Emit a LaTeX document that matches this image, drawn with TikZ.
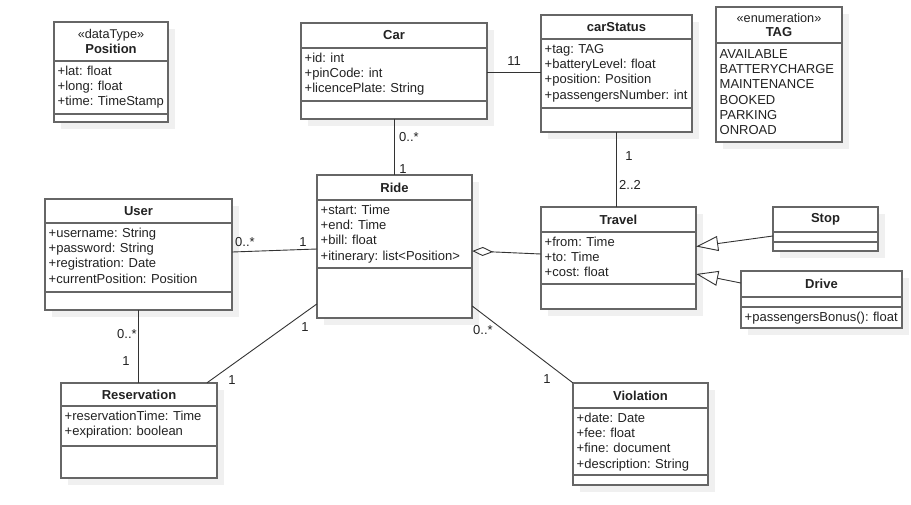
\documentclass[tikz,border=0pt]{standalone}
\usepackage{fontspec}
\setmainfont{Liberation Sans}[WordSpace=0.9]
\usetikzlibrary{arrows.meta,fit,calc}
\definecolor{boxc}{HTML}{666666}
\definecolor{shadc}{HTML}{F0F0F0}
\definecolor{txtc}{HTML}{222222}
\definecolor{linec}{HTML}{333333}
\tikzset{
  boxline/.style={draw=boxc, line width=1.4pt},
  titlef/.style={inner sep=0pt, text=txtc, font=\fontsize{13}{15}\selectfont\bfseries},
  stereof/.style={inner sep=0pt, text=txtc, font=\fontsize{12.7}{15}\selectfont},
  attrf/.style={inner sep=0pt, anchor=base west, text=txtc, font=\fontsize{13}{15}\selectfont},
  litf/.style={inner sep=0pt, anchor=base west, text=txtc, font=\fontsize{13}{15}\selectfont},
  mult/.style={inner sep=0pt, text=txtc, font=\fontsize{13}{15}\selectfont},
  conn/.style={draw=linec, line width=0.9pt},
  genarrow/.style={conn, -{Triangle[open, length=22pt, width=15pt, line width=0.9pt]}},
  aggarrow/.style={conn, -{Diamond[open, length=21pt, width=9pt, line width=0.9pt]}},
}
\newcommand\umlbox[5]{%
  \fill[shadc] (#2+7,#3+7) rectangle (#4+7,#5+7);
  \fill[white] (#2,#3) rectangle (#4,#5);
  \node[inner sep=0pt, fit={(#2,#3) (#4,#5)}] (#1) {};
  \draw[boxline] (#2,#3) rectangle (#4,#5);
}
\newcommand\umldiv[3]{\draw[boxline] (#1,#3) -- (#2,#3);}
\newcommand\umlattrs[5]{%
  \foreach \attrtext [count=\i] in {#5}
    \node[#4] (#1-\i) at (#2, {#3+15.2*(\i-1)}) {\attrtext};
}
\begin{document}
\begin{tikzpicture}[x=1pt, y=-1pt]
\useasboundingbox (0,0) rectangle (911,504);
\fill[white] (0,0) rectangle (911,504);

% Position
\umlbox{position}{54}{22}{168}{122}
\umldiv{54}{168}{61}
\umldiv{54}{168}{114}
\node[stereof] (position-s) at (111,35) {«dataType»};
\node[titlef] (position-t) at (111,49) {Position};
\umlattrs{position-a}{57.5}{75.5}{attrf}{+lat: float,+long: float,+time: TimeStamp}

% Car
\umlbox{car}{301}{23}{487}{119}
\umldiv{301}{487}{48}
\umldiv{301}{487}{101}
\node[titlef] (car-t) at (394,35.5) {Car};
\umlattrs{car-a}{304.5}{62.5}{attrf}{+id: int,+pinCode: int,+licencePlate: String}

% carStatus
\umlbox{cs}{541}{15}{692}{132}
\umldiv{541}{692}{39}
\umldiv{541}{692}{108}
\node[titlef] (cs-t) at (616.5,27) {carStatus};
\umlattrs{cs-a}{544.5}{53.5}{attrf}{+tag: TAG,+batteryLevel: float,+position: Position,+passengersNumber: int}

% TAG
\umlbox{tag}{716}{7}{842}{142}
\umldiv{716}{842}{43}
\node[stereof] (tag-s) at (779,18) {«enumeration»};
\node[titlef] (tag-t) at (779,32) {TAG};
\umlattrs{tag-a}{719.5}{58.5}{litf}{AVAILABLE,BATTERYCHARGE,MAINTENANCE,BOOKED,PARKING,ONROAD}

% User
\umlbox{user}{45}{199}{232}{310}
\umldiv{45}{232}{223}
\umldiv{45}{232}{292}
\node[titlef] (user-t) at (138.5,211) {User};
\umlattrs{user-a}{48.5}{237.5}{attrf}{+username: String,+password: String,+registration: Date,+currentPosition: Position}

% Ride
\umlbox{ride}{317}{175}{472}{318}
\umldiv{317}{472}{200}
\umldiv{317}{472}{268}
\node[titlef] (ride-t) at (394.5,187.5) {Ride};
\umlattrs{ride-a}{320.5}{214.5}{attrf}{+start: Time,+end: Time,+bill: float,+itinerary: list<Position>}

% Travel
\umlbox{travel}{541}{207}{696}{309}
\umldiv{541}{696}{232}
\umldiv{541}{696}{284}
\node[titlef] (travel-t) at (618.5,219.5) {Travel};
\umlattrs{travel-a}{544.5}{246.5}{attrf}{+from: Time,+to: Time,+cost: float}

% Stop
\umlbox{stop}{773}{207}{878}{251}
\umldiv{773}{878}{232}
\umldiv{773}{878}{242}
\node[titlef] (stop-t) at (825.5,219.5) {Stop};

% Drive
\umlbox{drive}{741}{271}{902}{328}
\umldiv{741}{902}{297}
\umldiv{741}{902}{307}
\node[titlef] (drive-t) at (821.5,284) {Drive};
\umlattrs{drive-a}{744.5}{321.5}{attrf}{+passengersBonus(): float}

% Reservation
\umlbox{res}{61}{383}{217}{478}
\umldiv{61}{217}{406}
\umldiv{61}{217}{446}
\node[titlef] (res-t) at (139,394.5) {Reservation};
\umlattrs{res-a}{64.5}{420.5}{attrf}{+reservationTime: Time,+expiration: boolean}

% Violation
\umlbox{vio}{573}{383}{708}{485}
\umldiv{573}{708}{408}
\umldiv{573}{708}{475}
\node[titlef] (vio-t) at (640.5,395.5) {Violation};
\umlattrs{vio-a}{576.5}{422.5}{attrf}{+date: Date,+fee: float,+fine: document,+description: String}

% Connectors
\draw[conn] (car.east |- 0,72) -- (cs.west |- 0,72);
\draw[conn] (car.south) -- (car.south |- ride.north);
\draw[conn] (cs.south) -- (cs.south |- travel.north);
\draw[conn] (user.east |- 0,252) -- (ride.west |- 0,249);
\draw[aggarrow] (travel.west |- 0,254) -- (ride.east |- 0,251);
\draw[genarrow] (stop.west |- 0,236) -- (travel.east |- 0,246.5);
\draw[genarrow] (drive.west |- 0,283) -- (travel.east |- 0,274);
\draw[conn] (user.south) -- (user.south |- res.north);
\draw[conn] (ride.west |- 0,304) -- (res.north -| 207,0);
\draw[conn] (ride.east |- 0,306) -- (vio.north west);

% Multiplicities
\node[mult] (m1) at (514,61) {11};
\node[mult] (m2) at (409,137) {0..*};
\node[mult] (m3) at (403,169) {1};
\node[mult] (m4) at (629,156) {1};
\node[mult] (m5) at (630,185) {2..2};
\node[mult] (m6) at (245,242) {0..*};
\node[mult] (m7) at (303,242) {1};
\node[mult] (m8) at (127,334) {0..*};
\node[mult] (m9) at (126,361) {1};
\node[mult] (m10) at (305,327) {1};
\node[mult] (m11) at (232,380) {1};
\node[mult] (m12) at (483,330) {0..*};
\node[mult] (m13) at (547,379) {1};
\end{tikzpicture}
\end{document}
